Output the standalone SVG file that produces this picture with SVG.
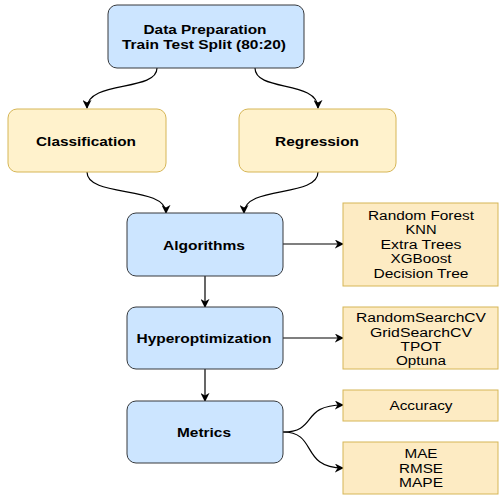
<svg xmlns="http://www.w3.org/2000/svg" width="499" height="497" viewBox="0 0 499 497">
<defs>
<marker id="ah" viewBox="0 0 10 10" refX="9" refY="5" markerWidth="9" markerHeight="9" markerUnits="userSpaceOnUse" orient="auto">
<path d="M0,0 L10,5 L0,10 L3,5 Z" fill="#000"/>
</marker>
<style>
.blue{fill:#cce5ff;stroke:#36393d;stroke-width:1}
.yel{fill:#fff2cc;stroke:#d6b656;stroke-width:1}
.side{fill:#fdebc3;stroke:#d6b656;stroke-width:1}
.b{font-family:"Liberation Sans",Arial,sans-serif;font-size:12px;font-weight:bold;fill:#000;text-anchor:middle}
.r{font-family:"Liberation Sans",Arial,sans-serif;font-size:12px;fill:#000;text-anchor:middle}
.e{fill:none;stroke:#000;stroke-width:1.2;marker-end:url(#ah)}
</style>
</defs>
<rect width="499" height="497" fill="#fff"/>
<g id="edges">
<path class="e" d="M157,68 C157,92 87,80 87,108"/>
<path class="e" d="M255,68 C255,92 318,80 318,108"/>
<path class="e" d="M87,172 C87,198 166,185 166,213"/>
<path class="e" d="M318,172 C318,198 244,185 244,213"/>
<path class="e" d="M205,276 L205,307"/>
<path class="e" d="M205,369 L205,401"/>
<path class="e" d="M283,244 L343,244"/>
<path class="e" d="M283,338 L343,338"/>
<path class="e" d="M283,432 C318,432 300,405 343,405"/>
<path class="e" d="M283,432 C318,432 300,468 343,468"/>
</g>
<g id="data-prep">
<rect class="blue" x="108" y="5" width="196" height="63" rx="9"/>
<text class="b" x="205" y="34" textLength="123" lengthAdjust="spacingAndGlyphs">Data Preparation</text>
<text class="b" x="204" y="49" textLength="164" lengthAdjust="spacingAndGlyphs">Train Test Split (80:20)</text>
</g>
<g id="classification">
<rect class="yel" x="8" y="109" width="158" height="63" rx="9"/>
<text class="b" x="86" y="146" textLength="100" lengthAdjust="spacingAndGlyphs">Classification</text>
</g>
<g id="regression">
<rect class="yel" x="239" y="109" width="157" height="63" rx="9"/>
<text class="b" x="317" y="146" textLength="84" lengthAdjust="spacingAndGlyphs">Regression</text>
</g>
<g id="algorithms">
<rect class="blue" x="127" y="213" width="156" height="63" rx="9"/>
<text class="b" x="204" y="250" textLength="82" lengthAdjust="spacingAndGlyphs">Algorithms</text>
</g>
<g id="hyperoptimization">
<rect class="blue" x="127" y="307" width="156" height="62" rx="9"/>
<text class="b" x="204" y="343" textLength="135" lengthAdjust="spacingAndGlyphs">Hyperoptimization</text>
</g>
<g id="metrics">
<rect class="blue" x="127" y="401" width="156" height="62" rx="9"/>
<text class="b" x="204" y="437" textLength="54" lengthAdjust="spacingAndGlyphs">Metrics</text>
</g>
<g id="algo-list">
<rect class="side" x="343" y="203" width="155" height="83"/>
<text class="r" x="421" y="220" textLength="106" lengthAdjust="spacingAndGlyphs">Random Forest</text>
<text class="r" x="421" y="234" textLength="31" lengthAdjust="spacingAndGlyphs">KNN</text>
<text class="r" x="421" y="249" textLength="81" lengthAdjust="spacingAndGlyphs">Extra Trees</text>
<text class="r" x="421" y="263" textLength="61" lengthAdjust="spacingAndGlyphs">XGBoost</text>
<text class="r" x="421" y="278" textLength="95" lengthAdjust="spacingAndGlyphs">Decision Tree</text>
</g>
<g id="hyper-list">
<rect class="side" x="343" y="307" width="155" height="62"/>
<text class="r" x="421" y="322" textLength="130" lengthAdjust="spacingAndGlyphs">RandomSearchCV</text>
<text class="r" x="421" y="337" textLength="102" lengthAdjust="spacingAndGlyphs">GridSearchCV</text>
<text class="r" x="421" y="351" textLength="41" lengthAdjust="spacingAndGlyphs">TPOT</text>
<text class="r" x="421" y="365" textLength="50" lengthAdjust="spacingAndGlyphs">Optuna</text>
</g>
<g id="accuracy">
<rect class="side" x="343" y="390" width="155" height="31"/>
<text class="r" x="421" y="410" textLength="63" lengthAdjust="spacingAndGlyphs">Accuracy</text>
</g>
<g id="reg-metrics">
<rect class="side" x="343" y="442" width="155" height="52"/>
<text class="r" x="421" y="458" textLength="33" lengthAdjust="spacingAndGlyphs">MAE</text>
<text class="r" x="421" y="473" textLength="44" lengthAdjust="spacingAndGlyphs">RMSE</text>
<text class="r" x="421" y="487" textLength="44" lengthAdjust="spacingAndGlyphs">MAPE</text>
</g>
</svg>
